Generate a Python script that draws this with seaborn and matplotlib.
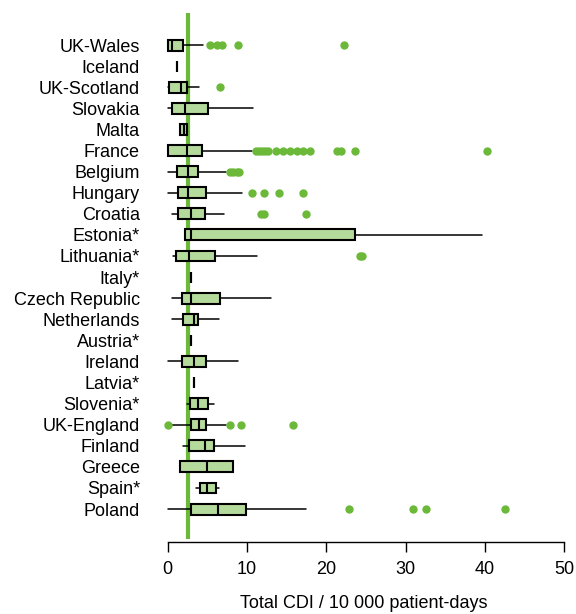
import matplotlib
matplotlib.use("Agg")
import matplotlib.pyplot as plt
import seaborn as sns

# countries, top to bottom as in the figure
countries = ["UK-Wales", "Iceland", "UK-Scotland", "Slovakia", "Malta", "France",
             "Belgium", "Hungary", "Croatia", "Estonia*", "Lithuania*", "Italy*",
             "Czech Republic", "Netherlands", "Austria*", "Ireland", "Latvia*",
             "Slovenia*", "UK-England", "Finland", "Greece", "Spain*", "Poland"]

whislo = [0.0, 1.2, 0.05, 0.05, 1.6, 0.0, 0.05, 0.05, 0.5, 2.15, 0.67, 2.95,
          0.6, 0.6, 3.0, 0.05, 3.3, 2.4, 0.5, 1.9, 1.5, 3.55, 0.05]
q1 = [0.0, 1.2, 0.15, 0.6, 1.6, 0.0, 1.2, 1.3, 1.3, 2.25, 1.1, 2.95,
      1.75, 2.0, 3.0, 1.8, 3.3, 2.8, 3.0, 2.7, 1.5, 4.1, 3.0]
med = [0.55, 1.2, 1.65, 2.15, 2.05, 2.5, 2.55, 2.6, 2.95, 2.95, 2.65, 2.95,
       3.0, 3.3, 3.0, 3.3, 3.3, 3.8, 3.9, 4.65, 5.0, 5.0, 6.4]
q3 = [2.0, 1.2, 2.4, 5.1, 2.5, 4.3, 3.8, 4.8, 4.7, 23.6, 6.0, 2.95,
      6.55, 3.85, 3.0, 4.8, 3.3, 5.1, 4.8, 5.8, 8.3, 6.05, 9.85]
whishi = [4.5, 1.2, 4.0, 10.8, 2.5, 10.6, 7.4, 9.4, 7.1, 39.6, 11.3, 2.95,
          13.0, 6.5, 3.0, 8.9, 3.3, 5.85, 7.35, 9.8, 8.3, 6.5, 17.45]
outliers = [
    [5.4, 6.2, 6.9, 8.9, 22.2],
    [],
    [6.65],
    [],
    [],
    [11.1, 11.5, 11.9, 12.3, 12.7, 13.7, 14.6, 15.4, 16.3, 17.1, 17.9, 21.3, 21.9, 23.6, 40.3],
    [7.9, 8.3, 8.7, 9.0],
    [10.7, 12.1, 14.1, 17.1],
    [11.8, 12.1, 17.4],
    [],
    [24.2, 24.5],
    [],
    [],
    [],
    [],
    [],
    [],
    [],
    [0.0, 7.9, 9.3, 15.8],
    [],
    [],
    [],
    [22.9, 30.9, 32.6, 42.6],
]
reference = 2.6  # overall median line
xticks = [0, 10, 20, 30, 40, 50]

sns.set_style("white")
plt.rcParams['font.family'] = ['Liberation Sans', 'DejaVu Sans']
plt.rcParams.update({"text.color": "black", "axes.labelcolor": "black",
                     "xtick.color": "black", "ytick.color": "black",
                     "axes.edgecolor": "black"})

box_fill = "#b4da9c"
green = "#6cb93a"

stats = []
for i in range(len(countries)):
    stats.append({"label": countries[i], "whislo": whislo[i], "q1": q1[i], "med": med[i],
                  "q3": q3[i], "whishi": whishi[i], "fliers": outliers[i]})
stats = stats[::-1]  # Poland at bottom
pos = list(range(1, len(stats) + 1))

fig = plt.figure(figsize=(5.76, 6.14), dpi=100)
ax = fig.add_axes([0.2635, 0.1221, 0.7365, 0.8567])

ax.bxp(stats, positions=pos, vert=False, widths=0.52, patch_artist=True,
       showcaps=False,
       boxprops=dict(facecolor=box_fill, edgecolor="black", linewidth=1.5),
       medianprops=dict(color="black", linewidth=1.5),
       whiskerprops=dict(color="black", linewidth=1.1),
       flierprops=dict(marker="o", markerfacecolor=green, markeredgecolor=green,
                       markersize=5, linestyle="none"))
ax.axvline(reference, color=green, linewidth=3, zorder=0.5)

ax.set_xlim(-2.0, 51.5)
ax.set_ylim(-0.42, 24.52)
ax.set_xticks(xticks)
ax.set_xticklabels([str(t) for t in xticks])
ax.set_yticks(pos)
ax.set_yticklabels([s["label"] for s in stats])
ax.tick_params(axis="y", length=0, pad=8.5, labelsize=13)
ax.tick_params(axis="x", length=7, width=1, pad=7, direction="out", bottom=True,
               labelsize=13)
ax.set_xlabel("Total CDI / 10 000 patient-days", fontsize=13, labelpad=12)

for side in ["top", "right", "left"]:
    ax.spines[side].set_visible(False)
ax.spines["bottom"].set_bounds(0, 50)
ax.spines["bottom"].set_position(("outward", 2))
ax.spines["bottom"].set_linewidth(1)
ax.grid(False)

fig.savefig("out.png", dpi=100)
